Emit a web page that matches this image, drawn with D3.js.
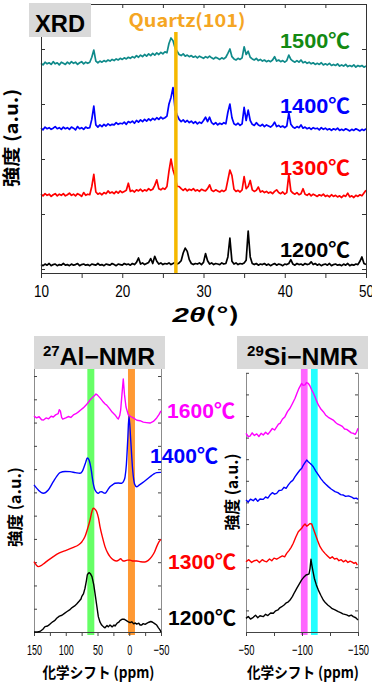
<!DOCTYPE html>
<html><head><meta charset="utf-8">
<script src="https://cdn.jsdelivr.net/npm/d3@7"></script>
<style>body{margin:0;background:#fff}svg{display:block}</style>
</head><body>
<script>
// ---------- XRD data (intensity in 0.01 a.u., offset included; 2θ = 10 + 0.25*i) ----------
const xrdStart = 10, xrdStep = 0.25;
const xrdTicks = [10,15,20,25,30,35,40,45,50];
const xrdTickLabels = [10,20,30,40,50];
const xrdLabels = ["1200℃","1300℃","1400℃","1500℃"];
const xrd1200 = [8,6,9,7,10,6,8,9,6,8,7,10,7,8,6,9,7,8,10,6,8,9,7,8,6,9,8,7,10,7,8,6,9,8,7,10,8,6,9,8,7,10,8,9,7,10,8,12,20,9,11,8,10,12,19,10,23,14,9,11,8,10,9,11,8,10,12,9,11,15,29,38,32,17,10,8,10,9,11,8,12,28,15,9,11,8,10,9,8,11,9,10,22,56,14,9,11,8,10,9,11,16,69,22,10,8,10,7,9,8,10,7,9,6,8,10,7,9,8,6,9,8,10,17,9,7,10,8,9,7,10,8,9,13,8,10,7,9,6,8,9,7,10,6,8,9,7,8,6,9,7,10,6,8,7,9,8,14,22,10,8];
const xrd1300 = [136,133,137,134,136,132,135,137,133,136,134,137,133,135,138,134,136,133,137,135,132,139,134,136,135,150,172,140,136,138,135,139,137,142,138,140,137,141,138,142,139,141,143,156,141,143,140,144,142,145,141,144,142,146,143,145,152,162,146,144,147,145,150,178,200,180,168,150,150,146,143,146,142,145,143,146,142,144,141,145,143,142,146,153,143,141,144,142,140,143,141,144,162,180,170,145,141,143,140,144,168,146,150,161,144,141,143,149,140,142,139,141,138,140,137,141,144,139,137,140,136,139,172,142,138,136,139,135,137,146,136,134,137,133,136,134,132,135,133,136,132,134,131,135,132,134,131,133,130,134,132,138,131,133,130,134,132,135,133,138,143];
const xrd1400 = [256,253,258,255,257,254,256,259,255,257,254,258,255,257,254,258,256,253,259,255,257,254,258,256,257,272,296,262,258,262,259,263,260,264,261,263,262,266,263,265,264,267,263,268,266,269,265,270,267,271,268,272,269,273,270,274,271,275,272,276,273,275,278,300,312,330,290,280,272,268,271,267,270,266,269,265,268,264,267,265,270,276,268,276,266,263,266,262,265,263,266,264,285,300,275,264,262,265,261,264,294,270,289,270,263,261,266,262,260,263,259,262,260,258,261,267,259,261,258,260,257,260,284,263,258,256,259,257,262,256,258,255,257,254,257,255,256,253,257,254,256,253,255,252,255,253,256,252,254,252,255,253,251,254,252,255,253,251,254,252,255];
const xrd1500 = [374,371,376,373,375,372,377,373,375,371,376,374,372,376,373,377,374,376,372,375,377,373,376,374,376,385,398,378,375,378,376,379,377,380,378,381,379,382,380,383,381,384,382,385,383,386,384,388,385,389,386,390,387,391,388,392,389,393,390,394,391,395,393,410,420,415,402,396,390,388,391,387,389,386,388,385,387,384,387,385,383,386,384,387,384,382,385,383,381,384,382,385,392,400,386,382,380,383,381,384,404,390,396,385,382,380,383,379,381,378,380,377,379,377,380,386,378,380,377,379,376,379,389,381,378,376,379,376,380,375,377,374,376,373,375,372,374,372,375,371,373,371,374,370,372,370,373,369,371,369,372,368,370,368,371,367,370,368,370,367,369];
const quartzPos = 26.6;

// ---------- 27Al NMR data [ppm, a.u.] ----------
const alTicks = [150,125,100,75,50,25,0,-25,-50];
const alLabels = ["1200℃","1300℃","1400℃","1600℃"];
const al1600 = [[150,9.28],[146,9.20],[142,9.25],[138,9.12],[135,9.11],[131,9.20],[127,9.16],[123,9.27],[119.6,9.24],[116,9.33],[112,9.38],[110.2,9.55],[108.5,9.50],[106.5,9.22],[104.8,9.15],[100,9.20],[96,9.26],[92,9.22],[88,9.33],[84,9.38],[80,9.46],[76,9.55],[72.4,9.63],[68,9.75],[65,9.85],[61.8,9.97],[58,10.08],[55,10.15],[52.4,10.23],[50,10.18],[46.1,10.06],[42,9.92],[38,9.80],[35.5,9.75],[31,9.60],[27,9.45],[22.4,9.33],[19,9.20],[17.2,9.15],[15,9.30],[13.5,9.54],[11.5,10.2],[9.4,10.87],[7.5,10.2],[5.1,9.67],[1.5,9.33],[-3,9.25],[-6.4,9.20],[-12,9.10],[-17,9.08],[-22.1,9.02],[-27,9.00],[-32.7,8.98],[-38,9.05],[-43.2,9.20],[-47,9.35],[-50,9.50]];
const al1400 = [[150,6.32],[143.2,6.10],[135.4,5.96],[127.5,6.10],[119.6,6.46],[114,6.70],[109.1,6.85],[101,6.90],[93.3,6.89],[85,6.85],[77.6,6.82],[74,6.90],[71.3,7.08],[68.5,7.30],[66.1,7.48],[63.5,7.40],[61.8,7.25],[59.5,6.90],[57.6,6.53],[53.9,6.10],[48.7,5.96],[46,6.02],[43.4,6.03],[40.5,5.98],[38.2,5.96],[34,6.10],[30.3,6.24],[26,6.33],[22.4,6.39],[17,6.40],[11.9,6.39],[8.5,6.50],[6.6,6.67],[4.5,7.20],[2.4,8.25],[0.4,9.28],[-2.3,8.25],[-5.4,6.96],[-8.5,6.35],[-11.7,6.24],[-15,6.30],[-19.6,6.39],[-26,6.52],[-32.7,6.67],[-38,6.78],[-43.2,6.85],[-50,6.86]];
const al1300 = [[150,3.02],[143.2,2.81],[139,2.85],[135.4,2.92],[128,3.08],[119.6,3.24],[110,3.40],[98.5,3.52],[89,3.63],[80.2,3.74],[74.5,3.88],[69.7,4.10],[65.5,4.45],[61.8,4.81],[58.8,5.18],[56.6,5.32],[54,5.28],[51.3,5.17],[48.5,4.90],[46.1,4.53],[42,4.05],[38.2,3.67],[34,3.40],[30.3,3.24],[25,3.10],[19.8,3.05],[16,3.10],[13.5,3.15],[11,3.08],[8.3,3.05],[3,3.09],[-1.2,3.09],[-6,3.05],[-11.7,3.05],[-18,3.02],[-24.8,3.01],[-30,3.08],[-35.4,3.24],[-40,3.45],[-43.2,3.67],[-47,3.88],[-50,3.98]];
const al1200 = [[150,0],[145,0],[140.6,0.02],[136,0.12],[132.7,0.23],[128.5,0.26],[124.8,0.34],[120,0.45],[117,0.50],[114.3,0.59],[110,0.68],[106,0.72],[102,0.80],[98.5,0.87],[94,0.95],[90,1.05],[86,1.12],[82.8,1.20],[79,1.32],[76,1.42],[74.9,1.52],[72,1.65],[69.7,1.88],[67.5,2.20],[66.1,2.45],[64.5,2.52],[62.9,2.55],[61,2.50],[58.7,2.38],[56,2.05],[53.9,1.66],[51,1.10],[48.7,0.66],[46,0.42],[43.4,0.30],[40.5,0.22],[38.2,0.18],[35,0.28],[33,0.22],[30.3,0.30],[27,0.22],[24,0.30],[22.4,0.26],[19,0.38],[16.5,0.42],[14.6,0.49],[11,0.55],[8.3,0.55],[5,0.50],[2,0.45],[-1.2,0.40],[-4,0.44],[-7,0.35],[-9.5,0.39],[-11.7,0.34],[-15,0.38],[-17,0.30],[-19.6,0.30],[-22,0.36],[-25,0.33],[-27.5,0.37],[-31,0.42],[-34,0.45],[-36.9,0.42],[-40,0.36],[-43.2,0.30],[-46,0.18],[-48.4,0.09],[-50,0]];
const alBands = [[66,55,"#66ff66"],[2,-9,"#ff9933"]];

// ---------- 29Si NMR data [ppm, a.u.] ----------
const siTicks = [-50,-75,-100,-125,-150];
const siLabels = ["1200℃","1300℃","1400℃","1600℃"];
const si1600 = [[-50,9.20],[-52,9.05],[-53.6,9.07],[-55.5,9.22],[-57.5,9.10],[-59.6,9.17],[-61.5,9.05],[-63.5,9.20],[-65.4,9.12],[-67.5,9.25],[-69.5,9.15],[-71.4,9.27],[-73.5,9.42],[-75.5,9.35],[-77.4,9.50],[-79,9.62],[-80.4,9.66],[-82.5,9.85],[-84.8,9.97],[-87,10.20],[-89.3,10.36],[-91.5,10.58],[-93.8,10.82],[-95.5,11.05],[-97.3,11.28],[-99.7,11.51],[-101,11.42],[-102.7,11.44],[-104,11.55],[-105.6,11.51],[-107,11.40],[-108.7,11.20],[-110,11.08],[-111.6,10.89],[-113,10.70],[-114.6,10.51],[-116.5,10.35],[-119,10.20],[-121,10.05],[-123.5,9.94],[-125.5,9.88],[-127.9,9.81],[-130,9.70],[-132,9.62],[-133.9,9.58],[-136,9.52],[-138,9.40],[-139.9,9.38],[-142,9.30],[-144,9.22],[-145.8,9.20],[-147.5,9.15],[-148.8,9.27],[-150,9.43]];
const si1400 = [[-50,6.11],[-52,6.02],[-54,6.15],[-56.5,6.08],[-58.5,6.18],[-60.5,6.05],[-62.5,6.16],[-65.4,6.14],[-67.5,6.25],[-69.5,6.20],[-71.4,6.34],[-73.5,6.45],[-75.5,6.38],[-77.4,6.42],[-79.5,6.55],[-81.9,6.57],[-84,6.70],[-85.8,6.65],[-87.8,6.81],[-90,6.95],[-91.8,7.02],[-93.8,7.19],[-96,7.35],[-98.2,7.50],[-99.8,7.58],[-101.2,7.73],[-102.8,7.85],[-104.2,7.96],[-105.6,7.88],[-107.1,7.81],[-108.5,7.75],[-110.1,7.65],[-112.3,7.45],[-114.6,7.27],[-116.8,7.10],[-119,6.96],[-121,6.85],[-123.5,6.73],[-126,6.62],[-129.5,6.50],[-132,6.45],[-134.5,6.36],[-136.9,6.34],[-139,6.28],[-141.5,6.30],[-144.4,6.24],[-146.5,6.18],[-148.5,6.20],[-150,6.14]];
const si1300 = [[-50,3.25],[-52.5,3.35],[-55,3.22],[-57.5,3.30],[-59.6,3.33],[-62,3.22],[-64.5,3.35],[-66.5,3.28],[-68.5,3.25],[-71,3.38],[-73,3.30],[-75,3.42],[-77.4,3.37],[-80,3.45],[-82.5,3.52],[-84.5,3.48],[-86.3,3.64],[-88.5,3.78],[-90.3,3.92],[-92.2,4.11],[-94.5,4.40],[-96.7,4.64],[-98.2,4.72],[-99.7,4.80],[-101.2,4.92],[-102.7,5.00],[-104.2,4.90],[-105.6,4.95],[-107.2,5.02],[-108.7,5.00],[-110,4.80],[-111.6,4.57],[-113.8,4.25],[-116.1,3.95],[-118.2,3.78],[-120.5,3.64],[-122.8,3.52],[-125,3.41],[-127,3.48],[-129,3.38],[-131,3.41],[-133,3.30],[-135,3.35],[-136.9,3.25],[-139,3.32],[-141,3.22],[-143,3.28],[-144.4,3.25],[-146.5,3.18],[-148,3.22],[-149.4,3.10]];
const si1200 = [[-50,0.63],[-52,0.72],[-54,0.60],[-56.5,0.68],[-58.5,0.78],[-60.5,0.66],[-62.5,0.75],[-65.4,0.71],[-67.5,0.82],[-69.5,0.76],[-72,0.88],[-74.4,0.87],[-76.5,0.98],[-78.5,1.02],[-80.2,1.12],[-81.9,1.17],[-84,1.25],[-86,1.35],[-87.8,1.40],[-89.3,1.48],[-91.5,1.65],[-93.5,1.85],[-95.3,2.02],[-97.5,2.22],[-99.7,2.41],[-101.8,2.55],[-103.6,2.64],[-105,2.66],[-106.3,2.69],[-107.2,2.95],[-108,3.37],[-108.8,3.10],[-109.6,2.87],[-111,2.49],[-112.8,2.18],[-114.6,1.94],[-116.8,1.70],[-119,1.48],[-121,1.35],[-123,1.25],[-125,1.17],[-127,1.08],[-129.5,1.02],[-132.4,0.94],[-134.5,0.90],[-136.5,0.84],[-139.9,0.79],[-142,0.74],[-144,0.78],[-145.8,0.71],[-148,0.66],[-150,0.56]];
const siBands = [[-99,-105,"#ff66ff"],[-108,-114,"#22ffff"]];

// ---------- drawing ----------
const W = 372, H = 684;
const FS = "'Liberation Sans', Arial, sans-serif";
const FJ = "'Noto Sans CJK JP', 'Liberation Sans', sans-serif";
const FT = "'Liberation Sans', 'Noto Sans CJK JP', sans-serif";
const svg = d3.select("body").append("svg").attr("width", W).attr("height", H);

function label(x, y, str, o) {
  const t = svg.append("text").attr("x", x).attr("y", y).text(str)
    .attr("font-family", o.family || FT).attr("font-size", o.size)
    .attr("font-weight", o.weight || "bold").attr("fill", o.color || "#000")
    .attr("text-anchor", o.anchor || "start");
  if (o.len) t.attr("textLength", o.len).attr("lengthAdjust", "spacingAndGlyphs");
  if (o.rotate) t.attr("transform", `rotate(${o.rotate},${x},${y})`);
  return t;
}
function squeezeTicks(g, size, perChar) {
  g.selectAll(".tick text").attr("font-family", FS).attr("font-size", size).attr("fill", "#000")
    .each(function() {
      const s = d3.select(this).text();
      if (s.length) d3.select(this).attr("textLength", s.replace(/[−-]/, "").length * perChar + (/[−-]/.test(s) ? 6 : 0))
        .attr("lengthAdjust", "spacingAndGlyphs");
    });
}
const minus = d => d < 0 ? "−" + Math.abs(d) : String(d);

// ===== XRD =====
const xX = d3.scaleLinear().domain([10, 50]).range([41, 366]);
const xY = d3.scaleLinear().domain([-4/55, 265/55]).range([273, 4]);
const xrdSeries = [xrd1200, xrd1300, xrd1400, xrd1500];
const xrdColors = ["#000000", "#ff0000", "#0000ff", "#0f8a8a"];
const xrdLabelColors = ["#000000", "#ff0000", "#0000ff", "#138a13"];
const xrdLine = d3.line().x(d => xX(d[0])).y(d => xY(d[1]));
xrdSeries.forEach((s, k) => {
  const pts = s.map((v, i) => [xrdStart + i * xrdStep, v / 100]);
  svg.append("path").attr("d", xrdLine(pts)).attr("fill", "none")
    .attr("stroke", xrdColors[k]).attr("stroke-width", 1.7).attr("stroke-linejoin", "round");
});
// frame & axes
const gxb = svg.append("g").attr("transform", `translate(0,${xY.range()[0]})`)
  .call(d3.axisBottom(xX).tickValues(xrdTicks).tickSizeInner(5).tickSizeOuter(0).tickPadding(7)
    .tickFormat(d => xrdTickLabels.includes(d) ? d : ""));
squeezeTicks(gxb, 17, 7.5);
svg.append("g").attr("transform", `translate(0,${xY.range()[1]})`)
  .call(d3.axisTop(xX).tickValues(xrdTicks).tickSizeInner(-4).tickSizeOuter(0).tickFormat(""));
svg.append("g").attr("transform", `translate(${xX.range()[0]},0)`)
  .call(d3.axisLeft(xY).tickValues([0,1,2,3,4]).tickSizeInner(-4).tickSizeOuter(0).tickFormat(""));
svg.append("g").attr("transform", `translate(${xX.range()[1]},0)`)
  .call(d3.axisRight(xY).tickValues([0,1,2,3,4]).tickSizeInner(-4).tickSizeOuter(0).tickFormat(""));
svg.selectAll("g .domain, g .tick line").attr("stroke", "#333");
// quartz line
svg.append("line").attr("x1", xX(quartzPos)).attr("x2", xX(quartzPos)).attr("y1", 32).attr("y2", xY.range()[0])
  .attr("stroke", "#f5b800").attr("stroke-width", 3.5);
label(187, 27, "Quartz(101)", {size: 18, color: "#f5a623", anchor: "middle", family: FJ, len: 117});
svg.append("rect").attr("x", 29).attr("y", 3).attr("width", 62).attr("height", 34).attr("fill", "#d9d9d9");
label(60, 32, "XRD", {size: 23, anchor: "middle", family: FS, len: 50});
const xrdLabelY = [257, 175, 113, 48];
xrdLabels.forEach((t, k) => label(350, xrdLabelY[k], t, {size: 21, anchor: "end", color: xrdLabelColors[k], len: 70}));
label(18, 138, "強度 (a.u.)", {size: 18, anchor: "middle", family: FJ, rotate: -90, len: 98});
const tt = svg.append("text").attr("x", 206).attr("y", 322).attr("text-anchor", "middle")
  .attr("font-size", 20).attr("font-weight", "bold").attr("font-family", FS)
  .attr("textLength", 67).attr("lengthAdjust", "spacingAndGlyphs");
tt.append("tspan").attr("font-style", "italic").text("2θ");
tt.append("tspan").attr("font-family", FJ).text("(°)");

// ===== NMR panels =====
function nmrPanel(o) {
  const x = d3.scaleLinear().domain(o.xDom).range(o.xRange);
  const y = d3.scaleLinear().domain([0, 12]).range([632, 632 - 12 * o.unit]);
  o.bands.forEach(b => svg.append("rect").attr("x", x(b[0])).attr("width", x(b[1]) - x(b[0]))
    .attr("y", 369).attr("height", 635 - 369).attr("fill", b[2]));
  const gl = svg.append("g").attr("transform", `translate(${o.xRange[0]},0)`)
    .call(d3.axisLeft(y).ticks(12).tickSizeInner(-3).tickSizeOuter(0).tickFormat(""));
  const gr = svg.append("g").attr("transform", `translate(${o.xRange[1]},0)`)
    .call(d3.axisRight(y).ticks(12).tickSizeInner(-3).tickSizeOuter(0).tickFormat(""));
  [gl, gr].forEach(g => { g.select(".domain").attr("stroke", "#8c8c8c"); g.selectAll(".tick line").attr("stroke", "#444"); });
  const gb = svg.append("g").attr("transform", `translate(0,632)`)
    .call(d3.axisBottom(x).tickValues(o.ticks).tickSizeInner(4).tickSizeOuter(0).tickPadding(8)
      .tickFormat(d => d % 50 === 0 ? minus(d) : ""));
  gb.select(".domain").attr("stroke", "#444"); gb.selectAll(".tick line").attr("stroke", "#444");
  squeezeTicks(gb, 15, 5);
  o.series.forEach((s, k) => {
    const ln = d3.line().x(d => x(d[0])).y(d => y(d[1])).curve(o.curves[k]);
    svg.append("path").attr("d", ln(s)).attr("fill", "none").attr("stroke", o.colors[k])
      .attr("stroke-width", 1.4).attr("stroke-linejoin", "round");
  });
  svg.append("rect").attr("x", o.box[0]).attr("y", 336).attr("width", o.box[1] - o.box[0]).attr("height", 33).attr("fill", "#d9d9d9");
  const t = svg.append("text").attr("x", o.titleX).attr("y", 365).attr("font-family", FS)
    .attr("font-size", 23).attr("font-weight", "bold")
    .attr("textLength", o.titleLen).attr("lengthAdjust", "spacingAndGlyphs");
  t.append("tspan").attr("font-size", 14).attr("dy", -9).text(o.sup);
  t.append("tspan").attr("dy", 9).text(o.title);
  label(o.yLab[0], o.yLab[1], "強度 (a.u.)", {size: 16, anchor: "middle", family: FJ, rotate: -90, len: o.yLab[2]});
  label((o.xRange[0] + o.xRange[1]) / 2 + 1, 678, "化学シフト (ppm)", {size: 15, anchor: "middle", family: FJ, len: 112});
}
const nmrColors = ["#000000", "#ff0000", "#0000ff", "#ff00ff"];
nmrPanel({xDom: [150, -50], xRange: [34, 161], unit: 23.27, ticks: alTicks, bands: alBands,
  series: [al1200, al1300, al1400, al1600], colors: nmrColors,
  curves: [d3.curveLinear, d3.curveMonotoneX, d3.curveMonotoneX, d3.curveLinear],
  box: [34, 165], titleX: 43, titleLen: 112, sup: "27", title: "Al−NMR", yLab: [21, 507, 80]});
nmrPanel({xDom: [-50, -150], xRange: [246, 358], unit: 21.6, ticks: siTicks, bands: siBands,
  series: [si1200, si1300, si1400, si1600], colors: nmrColors,
  curves: [d3.curveLinear, d3.curveLinear, d3.curveLinear, d3.curveLinear],
  box: [237, 368], titleX: 247, titleLen: 111, sup: "29", title: "Si−NMR", yLab: [238, 492, 77]});
const nmrLab = [[168, 625], [168, 569], [150, 463], [167, 418]];
alLabels.forEach((t, k) => label(nmrLab[k][0], nmrLab[k][1], t, {size: 21, color: nmrColors[k], len: 68}));
</script>
</body></html>
